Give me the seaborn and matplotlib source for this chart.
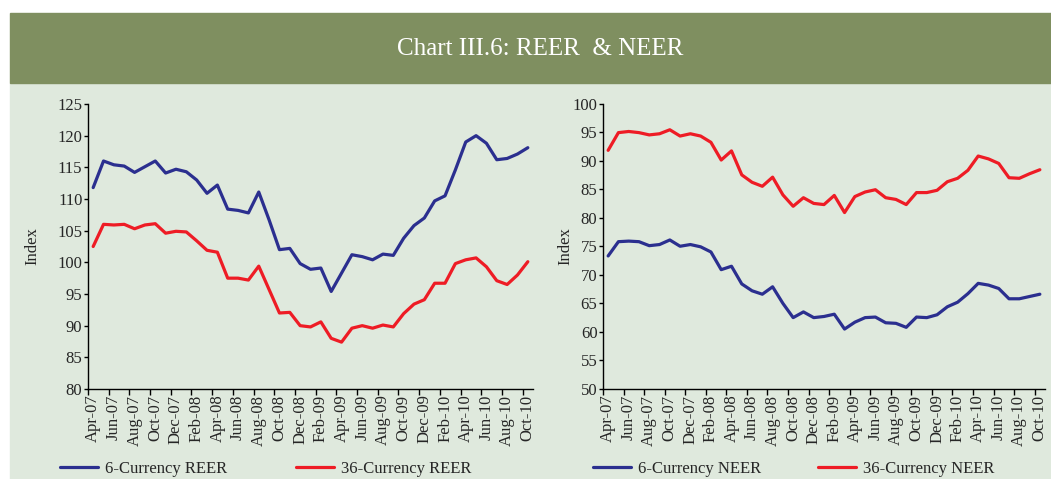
import numpy as np
import pandas as pd
import seaborn as sns
import matplotlib
matplotlib.use("Agg")
import matplotlib.pyplot as plt
from matplotlib.patches import Rectangle

# Data: monthly, Apr-07 to Oct-10 (43 months)
reer_6 = [111.8, 116.0, 115.4, 115.2, 114.2, 115.1, 116.0, 114.1, 114.7, 114.3,
          113.0, 110.9, 112.2, 108.4, 108.2, 107.8, 111.1, 106.7, 102.0, 102.2,
          99.8, 98.9, 99.1, 95.4, 98.3, 101.2, 100.9, 100.4, 101.3, 101.1,
          103.8, 105.8, 107.0, 109.7, 110.5, 114.6, 119.0, 120.0, 118.8, 116.2,
          116.4, 117.1, 118.1]
reer_36 = [102.5, 106.0, 105.9, 106.0, 105.3, 105.9, 106.1, 104.6, 104.9, 104.8,
           103.4, 101.9, 101.6, 97.5, 97.5, 97.2, 99.4, 95.7, 92.0, 92.1,
           90.0, 89.8, 90.6, 88.0, 87.4, 89.6, 90.0, 89.6, 90.1, 89.8,
           91.9, 93.4, 94.1, 96.7, 96.7, 99.8, 100.4, 100.7, 99.3, 97.1,
           96.5, 98.0, 100.1]
neer_6 = [73.3, 75.8, 75.9, 75.8, 75.1, 75.3, 76.1, 75.0, 75.3, 74.9,
          74.0, 70.9, 71.5, 68.4, 67.2, 66.6, 67.9, 65.0, 62.5, 63.5,
          62.5, 62.7, 63.1, 60.5, 61.7, 62.5, 62.6, 61.6, 61.5, 60.8,
          62.6, 62.5, 63.0, 64.4, 65.2, 66.7, 68.5, 68.2, 67.6, 65.8,
          65.8, 66.2, 66.6]
neer_36 = [91.8, 94.9, 95.1, 94.9, 94.5, 94.7, 95.4, 94.3, 94.7, 94.3,
           93.2, 90.1, 91.7, 87.5, 86.2, 85.5, 87.1, 84.0, 82.0, 83.5,
           82.5, 82.3, 83.9, 80.9, 83.7, 84.5, 84.9, 83.5, 83.2, 82.3,
           84.4, 84.4, 84.8, 86.3, 86.9, 88.3, 90.8, 90.3, 89.5, 87.0,
           86.9, 87.7, 88.4]

tick_labels = ["Apr-07", "Jun-07", "Aug-07", "Oct-07", "Dec-07", "Feb-08",
               "Apr-08", "Jun-08", "Aug-08", "Oct-08", "Dec-08", "Feb-09",
               "Apr-09", "Jun-09", "Aug-09", "Oct-09", "Dec-09", "Feb-10",
               "Apr-10", "Jun-10", "Aug-10", "Oct-10"]

BLUE = "#2b2f8f"
RED = "#ee1c25"
BG = "#dfe9dd"
BANNER = "#7f8f60"

sns.set_style("ticks")
plt.rcParams["font.family"] = ["Liberation Serif", "DejaVu Serif"]
plt.rcParams["axes.facecolor"] = "none"

fig = plt.figure(figsize=(10.51, 4.79), dpi=100)
fig.patch.set_facecolor("white")

# background panel and title banner (behind the axes)
fig.patches.append(Rectangle((10 / 1051, 0), 1 - 10 / 1051, 1 - 83 / 479,
                             transform=fig.transFigure, color=BG, zorder=-2))
fig.patches.append(Rectangle((10 / 1051, 1 - 83 / 479), 1 - 10 / 1051, 70 / 479,
                             transform=fig.transFigure, color=BANNER, zorder=-2))
fig.text(0.514, 0.898, "Chart III.6: REER  & NEER", color="white",
         fontsize=18, ha="center", va="center")


def draw_panel(rect, s6, s36, names, ylim, ylabel_x, leg_x, colspace):
    ax = fig.add_axes(rect)
    n = len(s6)
    df = pd.DataFrame({
        "month": list(range(n)) * 2,
        "value": s6 + s36,
        "series": [names[0]] * n + [names[1]] * n,
    })
    sns.lineplot(data=df, x="month", y="value", hue="series",
                 palette=[BLUE, RED], linewidth=2.3, ax=ax)
    ax.set_xlim(-0.5, n - 0.5)
    ax.set_ylim(*ylim)
    ax.set_yticks(np.arange(ylim[0], ylim[1] + 1, 5))
    ax.set_xticks(np.arange(-0.5, n - 1, 2))
    ax.set_xticklabels([])
    ax.set_xticks(np.arange(0, n, 2), minor=True)
    ax.set_xticklabels(tick_labels, minor=True, rotation=90, fontsize=12)
    ax.tick_params(axis="x", which="major", direction="out", length=4,
                   width=1, color="black")
    ax.tick_params(axis="x", which="minor", length=0, pad=4)
    ax.tick_params(axis="y", direction="out", length=3, width=1, pad=1,
                   labelsize=12, color="black")
    for side in ["left", "bottom"]:
        ax.spines[side].set_color("black")
        ax.spines[side].set_linewidth(1)
    sns.despine(ax=ax)
    ax.set_xlabel("")
    ax.set_ylabel("Index", fontsize=12, va="center")
    ax.yaxis.set_label_coords(ylabel_x, 0.5)
    ax.legend(loc="center left", bbox_to_anchor=(leg_x, 0.021),
              bbox_transform=fig.transFigure, ncol=2, frameon=False,
              fontsize=12, handlelength=2.3, handletextpad=0.42,
              columnspacing=colspace, borderaxespad=0, borderpad=0)
    return ax


draw_panel([88 / 1051, 90 / 479, 445 / 1051, 285 / 479], reer_6, reer_36,
           ["6-Currency REER", "36-Currency REER"], (80, 125), -0.126,
           60 / 1051, 4.1)
draw_panel([603 / 1051, 90 / 479, 442 / 1051, 285.5 / 479], neer_6, neer_36,
           ["6-Currency NEER", "36-Currency NEER"], (50, 100), -0.086,
           593 / 1051, 3.4)

fig.savefig("out.png", dpi=100)
